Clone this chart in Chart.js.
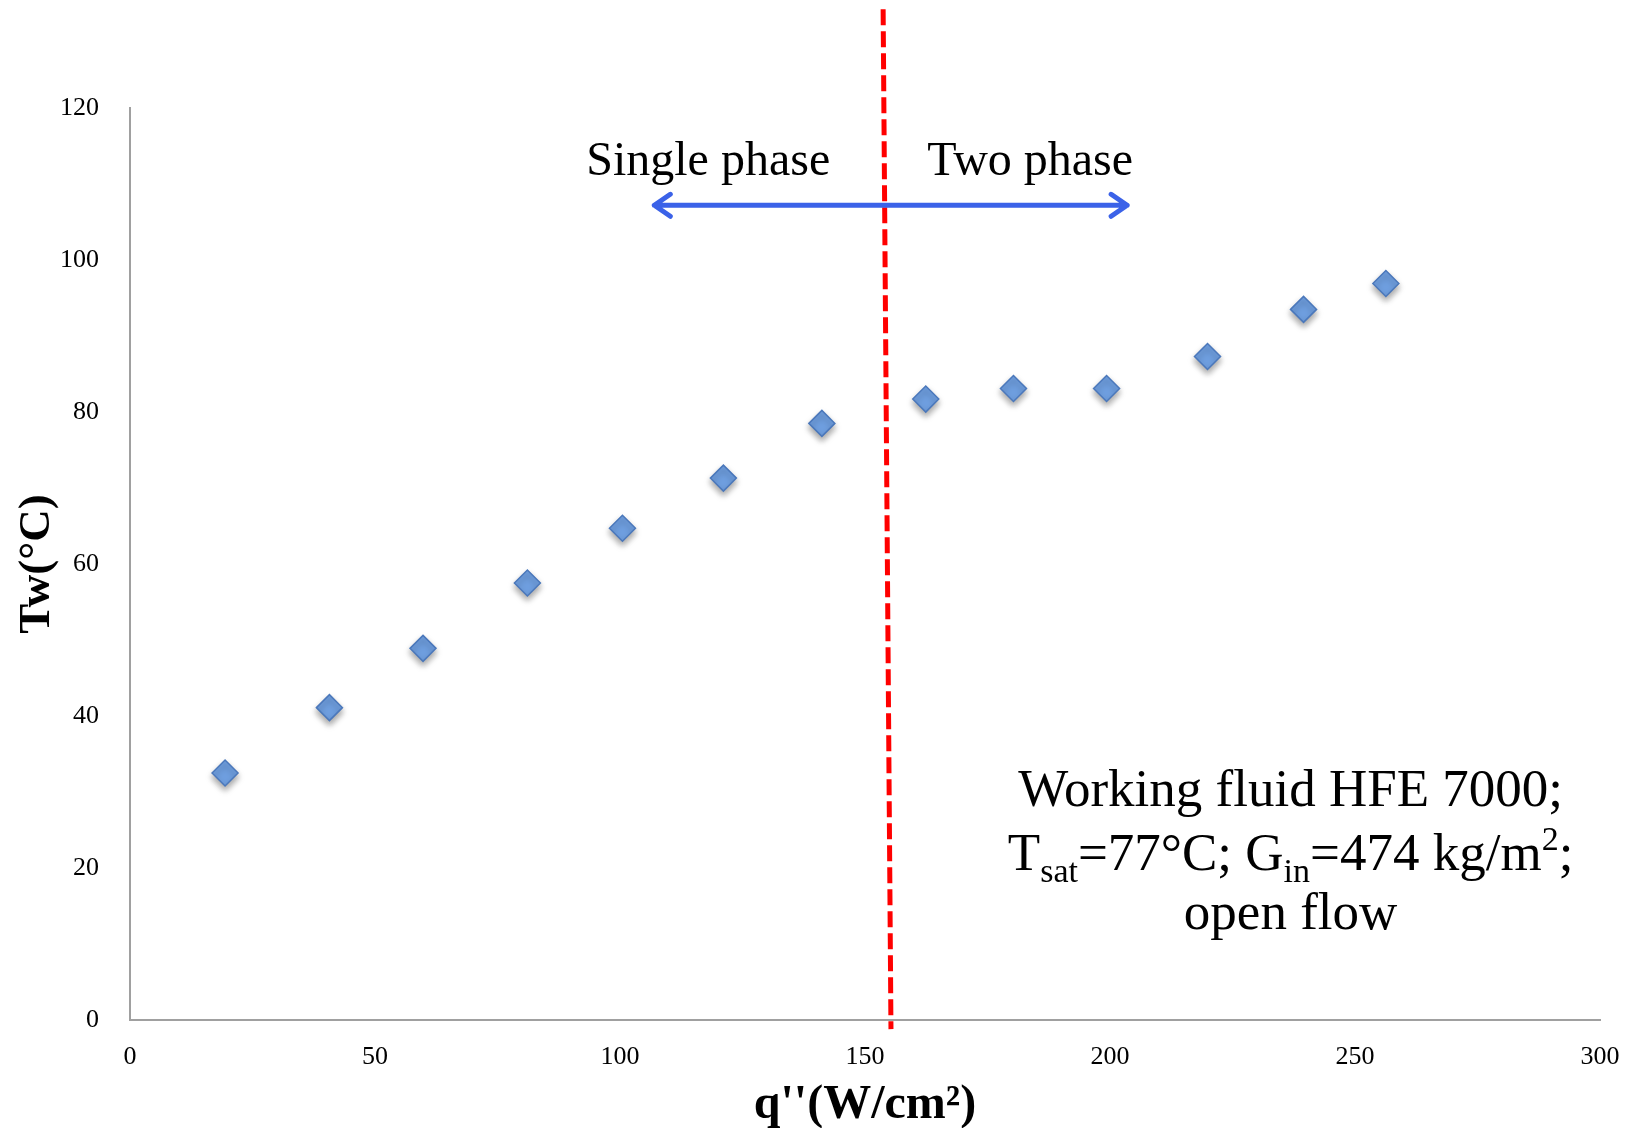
<!DOCTYPE html>
<html>
<head>
<meta charset="utf-8">
<script src="https://cdn.jsdelivr.net/npm/chart.js@4.4.0/dist/chart.umd.min.js"></script>
<style>
  html, body { margin: 0; padding: 0; background: #fff; }
  #wrap { width: 1636px; height: 1128px; }
</style>
</head>
<body>
<div id="wrap"><canvas id="twChart" width="1636" height="1128"></canvas></div>
<script>
// Wall temperature vs heat flux
const heatFlux = [19.4, 40.7, 59.8, 81.1, 100.5, 121.1, 141.2, 162.4, 180.3, 199.3, 219.9, 239.5, 256.3];
const wallTemp = [32.5, 41.1, 48.9, 57.5, 64.7, 71.3, 78.5, 81.7, 83.1, 83.1, 87.3, 93.5, 96.9];
const xTickValues = [0, 50, 100, 150, 200, 250, 300];
const yTickValues = [0, 20, 40, 60, 80, 100, 120];

// phase boundary (red dashed line), top -> bottom, data units
const boundaryX = [153.7, 155.3];
const boundaryY = [133, -1.2];
// double arrow across the boundary
const arrowX = [107, 203.5];
const arrowY = 107.2;
const phaseLabels = ['Single phase', 'Two phase'];

const SERIF = '"Liberation Serif", "Times New Roman", Times, serif';

// draw a line made of runs: 0 = normal, 1 = subscript, 2 = superscript
function drawRuns(ctx, runs, cx, baseline, size) {
    const subSize = Math.round(size * 0.65);
    let total = 0;
    runs.forEach(r => {
        ctx.font = (r[1] ? subSize : size) + 'px ' + SERIF;
        total += ctx.measureText(r[0]).width;
    });
    let xPos = cx - total / 2;
    ctx.textAlign = 'left';
    ctx.textBaseline = 'alphabetic';
    runs.forEach(r => {
        ctx.font = (r[1] ? subSize : size) + 'px ' + SERIF;
        let dy = 0;
        if (r[1] === 1) dy = size * 0.22;
        if (r[1] === 2) dy = -size * 0.38;
        ctx.fillText(r[0], xPos, baseline + dy);
        xPos += ctx.measureText(r[0]).width;
    });
}

const pointShadow = {
    id: 'pointShadow',
    beforeDatasetDraw(chart) {
        const ctx = chart.ctx;
        ctx.shadowColor = 'rgba(0,0,0,0.35)';
        ctx.shadowBlur = 6;
        ctx.shadowOffsetX = 0;
        ctx.shadowOffsetY = 4;
    },
    afterDatasetDraw(chart) {
        const ctx = chart.ctx;
        ctx.shadowColor = 'rgba(0,0,0,0)';
        ctx.shadowBlur = 0;
        ctx.shadowOffsetY = 0;
    }
};

const overlay = {
    id: 'overlay',
    afterDatasetsDraw(chart) {
        const { ctx, chartArea, scales: { x, y } } = chart;
        ctx.save();

        // red dashed boundary
        ctx.strokeStyle = '#ff0000';
        ctx.lineWidth = 5;
        ctx.setLineDash([16, 6]);
        ctx.beginPath();
        ctx.moveTo(x.getPixelForValue(boundaryX[0]), y.getPixelForValue(boundaryY[0]));
        ctx.lineTo(x.getPixelForValue(boundaryX[1]), y.getPixelForValue(boundaryY[1]));
        ctx.stroke();
        ctx.setLineDash([]);

        // blue double arrow
        const ay = y.getPixelForValue(arrowY);
        const ax0 = x.getPixelForValue(arrowX[0]);
        const ax1 = x.getPixelForValue(arrowX[1]);
        ctx.strokeStyle = '#3b62e8';
        ctx.lineWidth = 5;
        ctx.lineCap = 'round';
        ctx.lineJoin = 'round';
        ctx.beginPath();
        ctx.moveTo(ax0, ay); ctx.lineTo(ax1, ay);
        ctx.moveTo(ax0 + 16, ay - 11); ctx.lineTo(ax0, ay); ctx.lineTo(ax0 + 16, ay + 11);
        ctx.moveTo(ax1 - 16, ay - 11); ctx.lineTo(ax1, ay); ctx.lineTo(ax1 - 16, ay + 11);
        ctx.stroke();

        // phase labels
        ctx.fillStyle = '#000';
        ctx.font = '48px ' + SERIF;
        ctx.textAlign = 'center';
        ctx.textBaseline = 'alphabetic';
        ctx.fillText(phaseLabels[0], x.getPixelForValue(118), ay - 30);
        ctx.fillText(phaseLabels[1], x.getPixelForValue(183.7), ay - 30);

        // conditions note
        const cx = chartArea.left + (chartArea.right - chartArea.left) * 0.7895;
        drawRuns(ctx, [['Working fluid HFE 7000;', 0]], cx, 806, 53);
        drawRuns(ctx, [['T', 0], ['sat', 1], ['=77\u00B0C; G', 0], ['in', 1], ['=474 kg/m', 0], ['2', 2], [';', 0]], cx, 870, 53);
        drawRuns(ctx, [['open flow', 0]], cx, 929, 53);

        ctx.restore();
    }
};

new Chart(document.getElementById('twChart'), {
    type: 'scatter',
    data: {
        datasets: [{
            data: heatFlux.map((q, i) => ({ x: q, y: wallTemp[i] })),
            pointStyle: 'rectRot',
            pointRadius: 13,
            pointHoverRadius: 13,
            backgroundColor: '#6f9fe0',
            borderColor: '#4b78bb',
            borderWidth: 1.5
        }]
    },
    options: {
        responsive: false,
        animation: false,
        devicePixelRatio: 1,
        layout: { padding: { top: 108, right: 36, left: 0, bottom: 0 } },
        plugins: { legend: { display: false }, tooltip: { enabled: false } },
        scales: {
            x: {
                type: 'linear',
                min: 0, max: 300,
                afterBuildTicks: s => { s.ticks = xTickValues.map(v => ({ value: v })); },
                afterFit: s => { s.height = 108; },
                grid: { display: false },
                border: { display: true, color: '#a0a0a0', width: 2 },
                ticks: { color: '#000', font: { family: SERIF, size: 26 }, padding: 14, maxRotation: 0 },
                title: {
                    display: true,
                    text: "q''(W/cm\u00B2)",
                    color: '#000',
                    font: { family: SERIF, size: 48, weight: 'bold', lineHeight: 1 },
                    padding: { top: 0, bottom: -2 }
                }
            },
            y: {
                type: 'linear',
                min: 0, max: 120,
                afterBuildTicks: s => { s.ticks = yTickValues.map(v => ({ value: v })); },
                afterFit: s => { s.width = 130; },
                grid: { display: false },
                border: { display: true, color: '#a0a0a0', width: 2 },
                ticks: { color: '#000', font: { family: SERIF, size: 26 }, padding: 23 },
                title: {
                    display: true,
                    text: 'Tw(\u00B0C)',
                    color: '#000',
                    font: { family: SERIF, size: 45, weight: 'bold', lineHeight: 1 },
                    padding: { top: 15, bottom: 0 }
                }
            }
        }
    },
    plugins: [pointShadow, overlay]
});
</script>
</body>
</html>
